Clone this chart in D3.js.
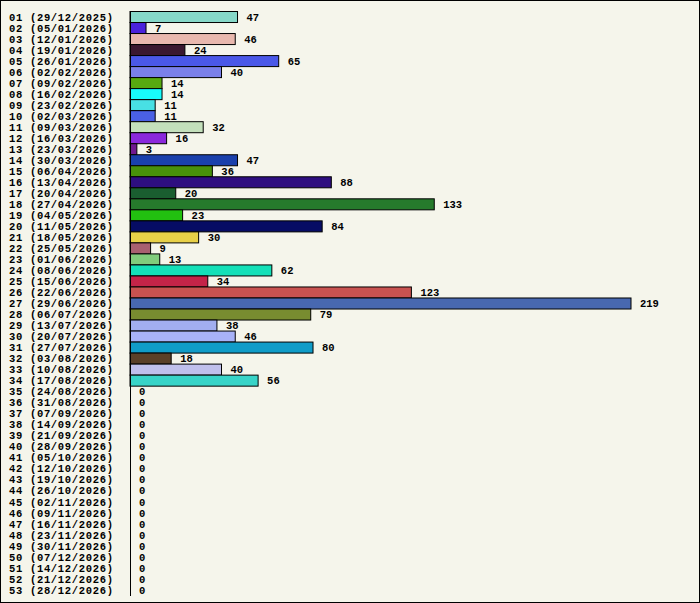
<!DOCTYPE html>
<html><head><meta charset="utf-8">
<script src="https://cdn.jsdelivr.net/npm/d3@7"></script>
<style>body{margin:0;background:#fff}svg{display:block}</style>
</head><body><svg id="c" width="700" height="603"></svg>
<script>
const weeks=["29/12/2025","05/01/2026","12/01/2026","19/01/2026","26/01/2026","02/02/2026","09/02/2026","16/02/2026","23/02/2026","02/03/2026","09/03/2026","16/03/2026","23/03/2026","30/03/2026","06/04/2026","13/04/2026","20/04/2026","27/04/2026","04/05/2026","11/05/2026","18/05/2026","25/05/2026","01/06/2026","08/06/2026","15/06/2026","22/06/2026","29/06/2026","06/07/2026","13/07/2026","20/07/2026","27/07/2026","03/08/2026","10/08/2026","17/08/2026","24/08/2026","31/08/2026","07/09/2026","14/09/2026","21/09/2026","28/09/2026","05/10/2026","12/10/2026","19/10/2026","26/10/2026","02/11/2026","09/11/2026","16/11/2026","23/11/2026","30/11/2026","07/12/2026","14/12/2026","21/12/2026","28/12/2026"];
const values=[47,7,46,24,65,40,14,14,11,11,32,16,3,47,36,88,20,133,23,84,30,9,13,62,34,123,219,79,38,46,80,18,40,56,0,0,0,0,0,0,0,0,0,0,0,0,0,0,0,0,0,0,0];
const colors=["#86d8c8","#4a22dc","#e8b8ae","#3a1830","#4a58e8","#7a80ea","#58aa10","#18fcfc","#48e0e4","#4a60e4","#c4e0bc","#8a28dc","#701890","#1a40ac","#48900a","#2e0e80","#1a5e30","#267a2c","#22c010","#060c64","#e8d048","#a86070","#80cc7c","#14e0b8","#c42448","#c85250","#4868b0","#788c30","#a2aef0","#a8b2f8","#109cc8","#5a4028","#c0c0ec","#38d4c8"];
const labels=weeks.map((w,i)=>String(i+1).padStart(2,"0")+" ("+w+")");
const svg=d3.select("#c");
svg.append("rect").attr("x",0.5).attr("y",0.5).attr("width",699).attr("height",602).attr("fill","#f5f5eb").attr("stroke","#000");
const x=d3.scaleLinear().domain([0,219]).range([130,631]);
const y=d3.scaleBand().domain(labels).range([11.5,595.5]).paddingInner(0);
const f="'Liberation Mono','DejaVu Sans Mono',monospace";
const g=svg.append("g");
labels.forEach((l,i)=>{
  const yy=y(l), h=y.bandwidth();
  if(values[i]>0) g.append("rect").attr("x",x(0)).attr("y",yy).attr("width",x(values[i])-x(0)).attr("height",h).attr("fill",colors[i]).attr("stroke","#000").attr("stroke-width",1);
  g.append("text").attr("x",9).attr("y",yy+h/2).attr("dy","0.35em").attr("font-family",f).attr("font-weight","bold").attr("font-size",10.5).attr("textLength",104).attr("lengthAdjust","spacing").text(l);
  g.append("text").attr("x",x(values[i])+9).attr("y",yy+h/2).attr("dy","0.35em").attr("font-family",f).attr("font-weight","bold").attr("font-size",10.5).text(values[i]);
});
svg.append("line").attr("x1",130.5).attr("x2",130.5).attr("y1",11).attr("y2",596).attr("stroke","#000");
</script></body></html>
